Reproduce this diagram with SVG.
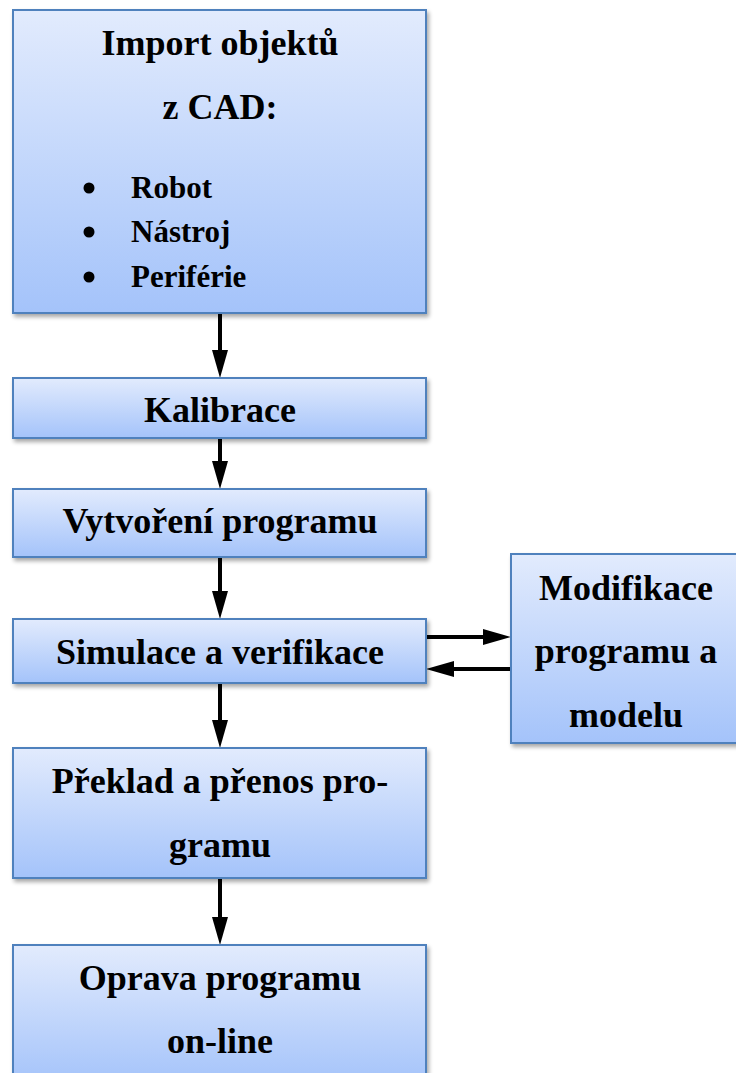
<svg xmlns="http://www.w3.org/2000/svg" width="736" height="1073" viewBox="0 0 736 1073">
<defs>
<linearGradient id="g" x1="0" y1="0" x2="0" y2="1">
<stop offset="0" stop-color="#e2ebfd"/>
<stop offset="1" stop-color="#a4c3fa"/>
</linearGradient>
<filter id="sh" x="-10%" y="-10%" width="120%" height="130%">
<feGaussianBlur in="SourceAlpha" stdDeviation="2"/>
<feOffset dx="2" dy="3" result="b"/>
<feComponentTransfer><feFuncA type="linear" slope="0.35"/></feComponentTransfer>
<feMerge><feMergeNode/><feMergeNode in="SourceGraphic"/></feMerge>
</filter>
</defs>
<style>
.box{fill:url(#g);stroke:#4f81bd;stroke-width:2;filter:url(#sh)}
text{font-family:"Liberation Serif","Times New Roman",serif;font-weight:bold;fill:#000}
.t{font-size:36px;text-anchor:middle}
.s{font-size:31px}
.c{stroke:#000;stroke-width:4;fill:none}
.h{fill:#000}
</style>
<g id="connectors">
<line class="c" x1="220" y1="314" x2="220" y2="350"/>
<path class="h" d="M212,350 L228,350 L220,378 Z"/>
<line class="c" x1="220" y1="439" x2="220" y2="461"/>
<path class="h" d="M212,461 L228,461 L220,489 Z"/>
<line class="c" x1="220" y1="558" x2="220" y2="591"/>
<path class="h" d="M212,591 L228,591 L220,619 Z"/>
<line class="c" x1="220" y1="684" x2="220" y2="720"/>
<path class="h" d="M212,720 L228,720 L220,748 Z"/>
<line class="c" x1="220" y1="879" x2="220" y2="917"/>
<path class="h" d="M212,917 L228,917 L220,945 Z"/>
<line class="c" x1="427" y1="637" x2="483" y2="637"/>
<path class="h" d="M483,629 L483,645 L511,637 Z"/>
<line class="c" x1="511" y1="669" x2="454" y2="669"/>
<path class="h" d="M454,661 L454,677 L426,669 Z"/>
</g>
<g id="n1">
<rect class="box" x="13" y="10" width="413" height="303"/>
<text class="t" x="220" y="55">Import objektů</text>
<text class="t" x="220" y="119">z CAD:</text>
<circle cx="89" cy="188" r="5.5"/>
<circle cx="89" cy="232" r="5.5"/>
<circle cx="89" cy="277" r="5.5"/>
<text class="s" x="131" y="198">Robot</text>
<text class="s" x="131" y="242">Nástroj</text>
<text class="s" x="131" y="287">Periférie</text>
</g>
<g id="n2">
<rect class="box" x="13" y="378" width="413" height="60"/>
<text class="t" x="220" y="422">Kalibrace</text>
</g>
<g id="n3">
<rect class="box" x="13" y="489" width="413" height="68"/>
<text class="t" x="220" y="533">Vytvoření programu</text>
</g>
<g id="n4">
<rect class="box" x="13" y="619" width="413" height="64"/>
<text class="t" x="220" y="664">Simulace a verifikace</text>
</g>
<g id="n5">
<rect class="box" x="511" y="554" width="229" height="189"/>
<text class="t" x="626" y="600">Modifikace</text>
<text class="t" x="626" y="663">programu a</text>
<text class="t" x="626" y="727">modelu</text>
</g>
<g id="n6">
<rect class="box" x="13" y="748" width="413" height="130"/>
<text class="t" x="220" y="793">Překlad a přenos pro-</text>
<text class="t" x="220" y="857">gramu</text>
</g>
<g id="n7">
<rect class="box" x="13" y="945" width="413" height="140"/>
<text class="t" x="220" y="990">Oprava programu</text>
<text class="t" x="220" y="1053">on-line</text>
</g>
</svg>
